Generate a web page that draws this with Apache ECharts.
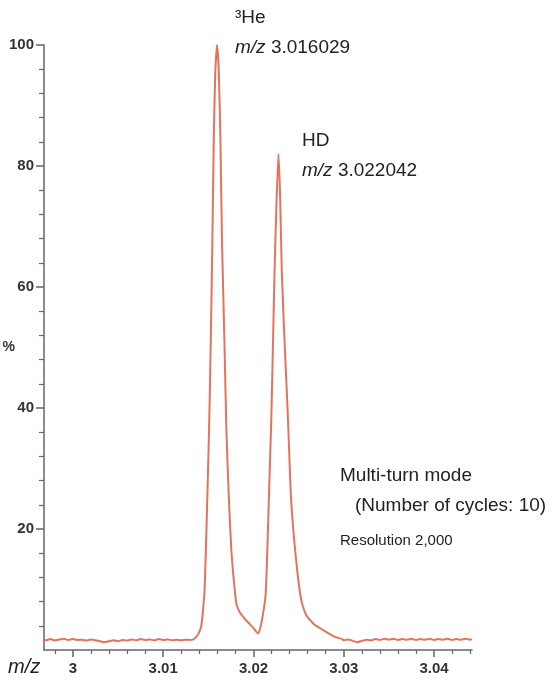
<!DOCTYPE html>
<html>
<head>
<meta charset="utf-8">
<script src="https://cdn.jsdelivr.net/npm/echarts@6/dist/echarts.min.js"></script>
<style>
  html, body { margin: 0; padding: 0; background: #fff; }
  #chart { width: 554px; height: 681px; }
</style>
</head>
<body>
<div id="chart"></div>
<script>
// m/z 轴坐标
var mz = [
  2.9968, 2.9970, 2.9975, 2.9980, 2.9985, 2.9990, 2.9995, 3.0000, 3.0005, 3.0010,
  3.0015, 3.0020, 3.0025, 3.0030, 3.0035, 3.0040, 3.0045, 3.0050, 3.0055, 3.0060,
  3.0065, 3.0070, 3.0075, 3.0080, 3.0085, 3.0090, 3.0095, 3.0100, 3.0105, 3.0110,
  3.0115, 3.0120, 3.0125, 3.0130,
  // 3He 峰
  3.01328, 3.01361, 3.01394, 3.01422, 3.01444, 3.01460, 3.01479, 3.01508, 3.01527, 3.01545,
  3.01560, 3.01576, 3.01596, 3.01615, 3.01634, 3.01651, 3.01678, 3.01700, 3.01728, 3.01753,
  3.01773, 3.01795, 3.01813, 3.01847, 3.01902, 3.01957, 3.02007, 3.02049,
  // HD 峰
  3.02078, 3.02106, 3.02134, 3.02150, 3.02170, 3.02197, 3.02215, 3.02233, 3.02255, 3.02277,
  3.02295, 3.02314, 3.02347, 3.02380, 3.02417, 3.02472, 3.02528, 3.02583, 3.02674, 3.02804,
  3.02895, 3.02983,
  3.0300, 3.0305, 3.0310, 3.0315, 3.0320, 3.0325, 3.0330, 3.0335, 3.0340, 3.0345,
  3.0350, 3.0355, 3.0360, 3.0365, 3.0370, 3.0375, 3.0380, 3.0385, 3.0390, 3.0395,
  3.0400, 3.0405, 3.0410, 3.0415, 3.0420, 3.0425, 3.0430, 3.0435, 3.0440, 3.0442
];
// 相对强度 %
var intensity = [
  1.70, 1.60, 1.80, 1.60, 1.75, 1.85, 1.65, 1.80, 1.65, 1.70,
  1.55, 1.75, 1.60, 1.45, 1.30, 1.45, 1.60, 1.45, 1.65, 1.55,
  1.75, 1.60, 1.80, 1.65, 1.75, 1.60, 1.80, 1.65, 1.75, 1.60,
  1.70, 1.60, 1.70, 1.65,
  1.70, 2.10, 2.80, 4.00, 7.00, 10.5, 19.8, 36.4, 51.0, 67.8,
  84.3, 95.0, 100, 96.0, 84.3, 67.8, 51.2, 36.4, 24.8, 17.0,
  13.0, 9.50, 7.50, 6.30, 5.20, 4.30, 3.50, 2.75,
  3.80, 6.00, 9.00, 15.0, 24.8, 38.0, 50.0, 62.3, 74.0, 82.0,
  75.0, 62.3, 50.0, 39.0, 24.8, 14.9, 8.30, 5.80, 4.20, 3.00,
  2.20, 1.80,
  1.60, 1.75, 1.50, 1.30, 1.50, 1.70, 1.60, 1.80, 1.65, 1.85,
  1.70, 1.85, 1.65, 1.80, 1.70, 1.85, 1.65, 1.80, 1.70, 1.85,
  1.65, 1.80, 1.70, 1.85, 1.65, 1.80, 1.70, 1.85, 1.70, 1.80
];
var xMajorTicks = [3, 3.01, 3.02, 3.03, 3.04];
var xMinorTicks = [2.998, 3.002, 3.004, 3.006, 3.008, 3.012, 3.014, 3.016, 3.018,
  3.022, 3.024, 3.026, 3.028, 3.032, 3.034, 3.036, 3.038, 3.042, 3.044];
var yMajorTicks = [20, 40, 60, 80, 100];
var yMinorTicks = [4, 8, 12, 16, 24, 28, 32, 36, 44, 48, 52, 56, 64, 68, 72, 76, 84, 88, 92, 96];

var axisColor = '#666';
var lineColor = '#e4735e';
var fontFamily = 'Liberation Sans, Arial, Helvetica, sans-serif';

var chart = echarts.init(document.getElementById('chart'), null, { renderer: 'canvas' });

var seriesData = mz.map(function (v, i) { return [v, intensity[i]]; });

var gridBox = { left: 44, right: 82, top: 45, bottom: 31, containLabel: false, outerBoundsMode: 'none' };

var option = {
  animation: false,
  backgroundColor: '#fff',
  grid: [
    Object.assign({}, gridBox),
    Object.assign({}, gridBox)
  ],
  xAxis: [{
    type: 'value', gridIndex: 0, min: 2.9968, max: 3.0442,
    axisLine: { show: true, lineStyle: { color: axisColor, width: 1.5 } },
    axisTick: { show: true, customValues: xMajorTicks, length: 7, lineStyle: { color: axisColor, width: 1.5 } },
    axisLabel: {
      customValues: xMajorTicks, margin: 11,
      color: '#333', fontWeight: 'bold', fontSize: 15, fontFamily: fontFamily
    },
    splitLine: { show: false }
  }, {
    type: 'value', gridIndex: 1, min: 2.9968, max: 3.0442,
    axisLine: { show: false },
    axisTick: { show: true, customValues: xMinorTicks, length: 4, lineStyle: { color: axisColor, width: 1.2 } },
    axisLabel: { show: false },
    splitLine: { show: false }
  }],
  yAxis: [{
    type: 'value', gridIndex: 0, min: 0, max: 100,
    name: '%', nameLocation: 'middle', nameRotate: 0, nameGap: 29, nameMoveOverlap: false,
    nameTextStyle: { color: '#333', fontWeight: 'bold', fontSize: 14, fontFamily: fontFamily },
    axisLine: { show: true, lineStyle: { color: axisColor, width: 1.5 } },
    axisTick: { show: true, customValues: yMajorTicks, length: 8, lineStyle: { color: axisColor, width: 1.5 } },
    axisLabel: {
      customValues: yMajorTicks, margin: 10,
      color: '#333', fontWeight: 'bold', fontSize: 15, fontFamily: fontFamily
    },
    splitLine: { show: false }
  }, {
    type: 'value', gridIndex: 1, min: 0, max: 100,
    axisLine: { show: false },
    axisTick: { show: true, customValues: yMinorTicks, length: 5, lineStyle: { color: axisColor, width: 1.2 } },
    axisLabel: { show: false },
    splitLine: { show: false }
  }],
  series: [{
    type: 'line',
    xAxisIndex: 0, yAxisIndex: 0,
    data: seriesData,
    showSymbol: false,
    smooth: 0.2,
    lineStyle: { color: lineColor, width: 2 }
  }],
  graphic: [
    { type: 'text', x: 8, y: 667, style: { text: 'm/z', font: 'italic 20px ' + fontFamily, fill: '#222', verticalAlign: 'middle' } },
    { type: 'text', x: 235, y: 18, style: { text: '³He', font: '19px ' + fontFamily, fill: '#222', verticalAlign: 'middle' } },
    { type: 'text', x: 235, y: 48, style: {
      text: '{i|m/z} 3.016029', font: '19px ' + fontFamily, fill: '#222', verticalAlign: 'middle',
      rich: { i: { fontStyle: 'italic', fontSize: 19, fontFamily: fontFamily, fill: '#222' } }
    } },
    { type: 'text', x: 302, y: 141, style: { text: 'HD', font: '19px ' + fontFamily, fill: '#222', verticalAlign: 'middle' } },
    { type: 'text', x: 302, y: 171, style: {
      text: '{i|m/z} 3.022042', font: '19px ' + fontFamily, fill: '#222', verticalAlign: 'middle',
      rich: { i: { fontStyle: 'italic', fontSize: 19, fontFamily: fontFamily, fill: '#222' } }
    } },
    { type: 'text', x: 340, y: 476, style: { text: 'Multi-turn mode', font: '19px ' + fontFamily, fill: '#222', verticalAlign: 'middle' } },
    { type: 'text', x: 355, y: 506, style: { text: '(Number of cycles: 10)', font: '19px ' + fontFamily, fill: '#222', verticalAlign: 'middle' } },
    { type: 'text', x: 340, y: 541, style: { text: 'Resolution 2,000', font: '15px ' + fontFamily, fill: '#222', verticalAlign: 'middle' } }
  ]
};

chart.setOption(option);
</script>
</body>
</html>
